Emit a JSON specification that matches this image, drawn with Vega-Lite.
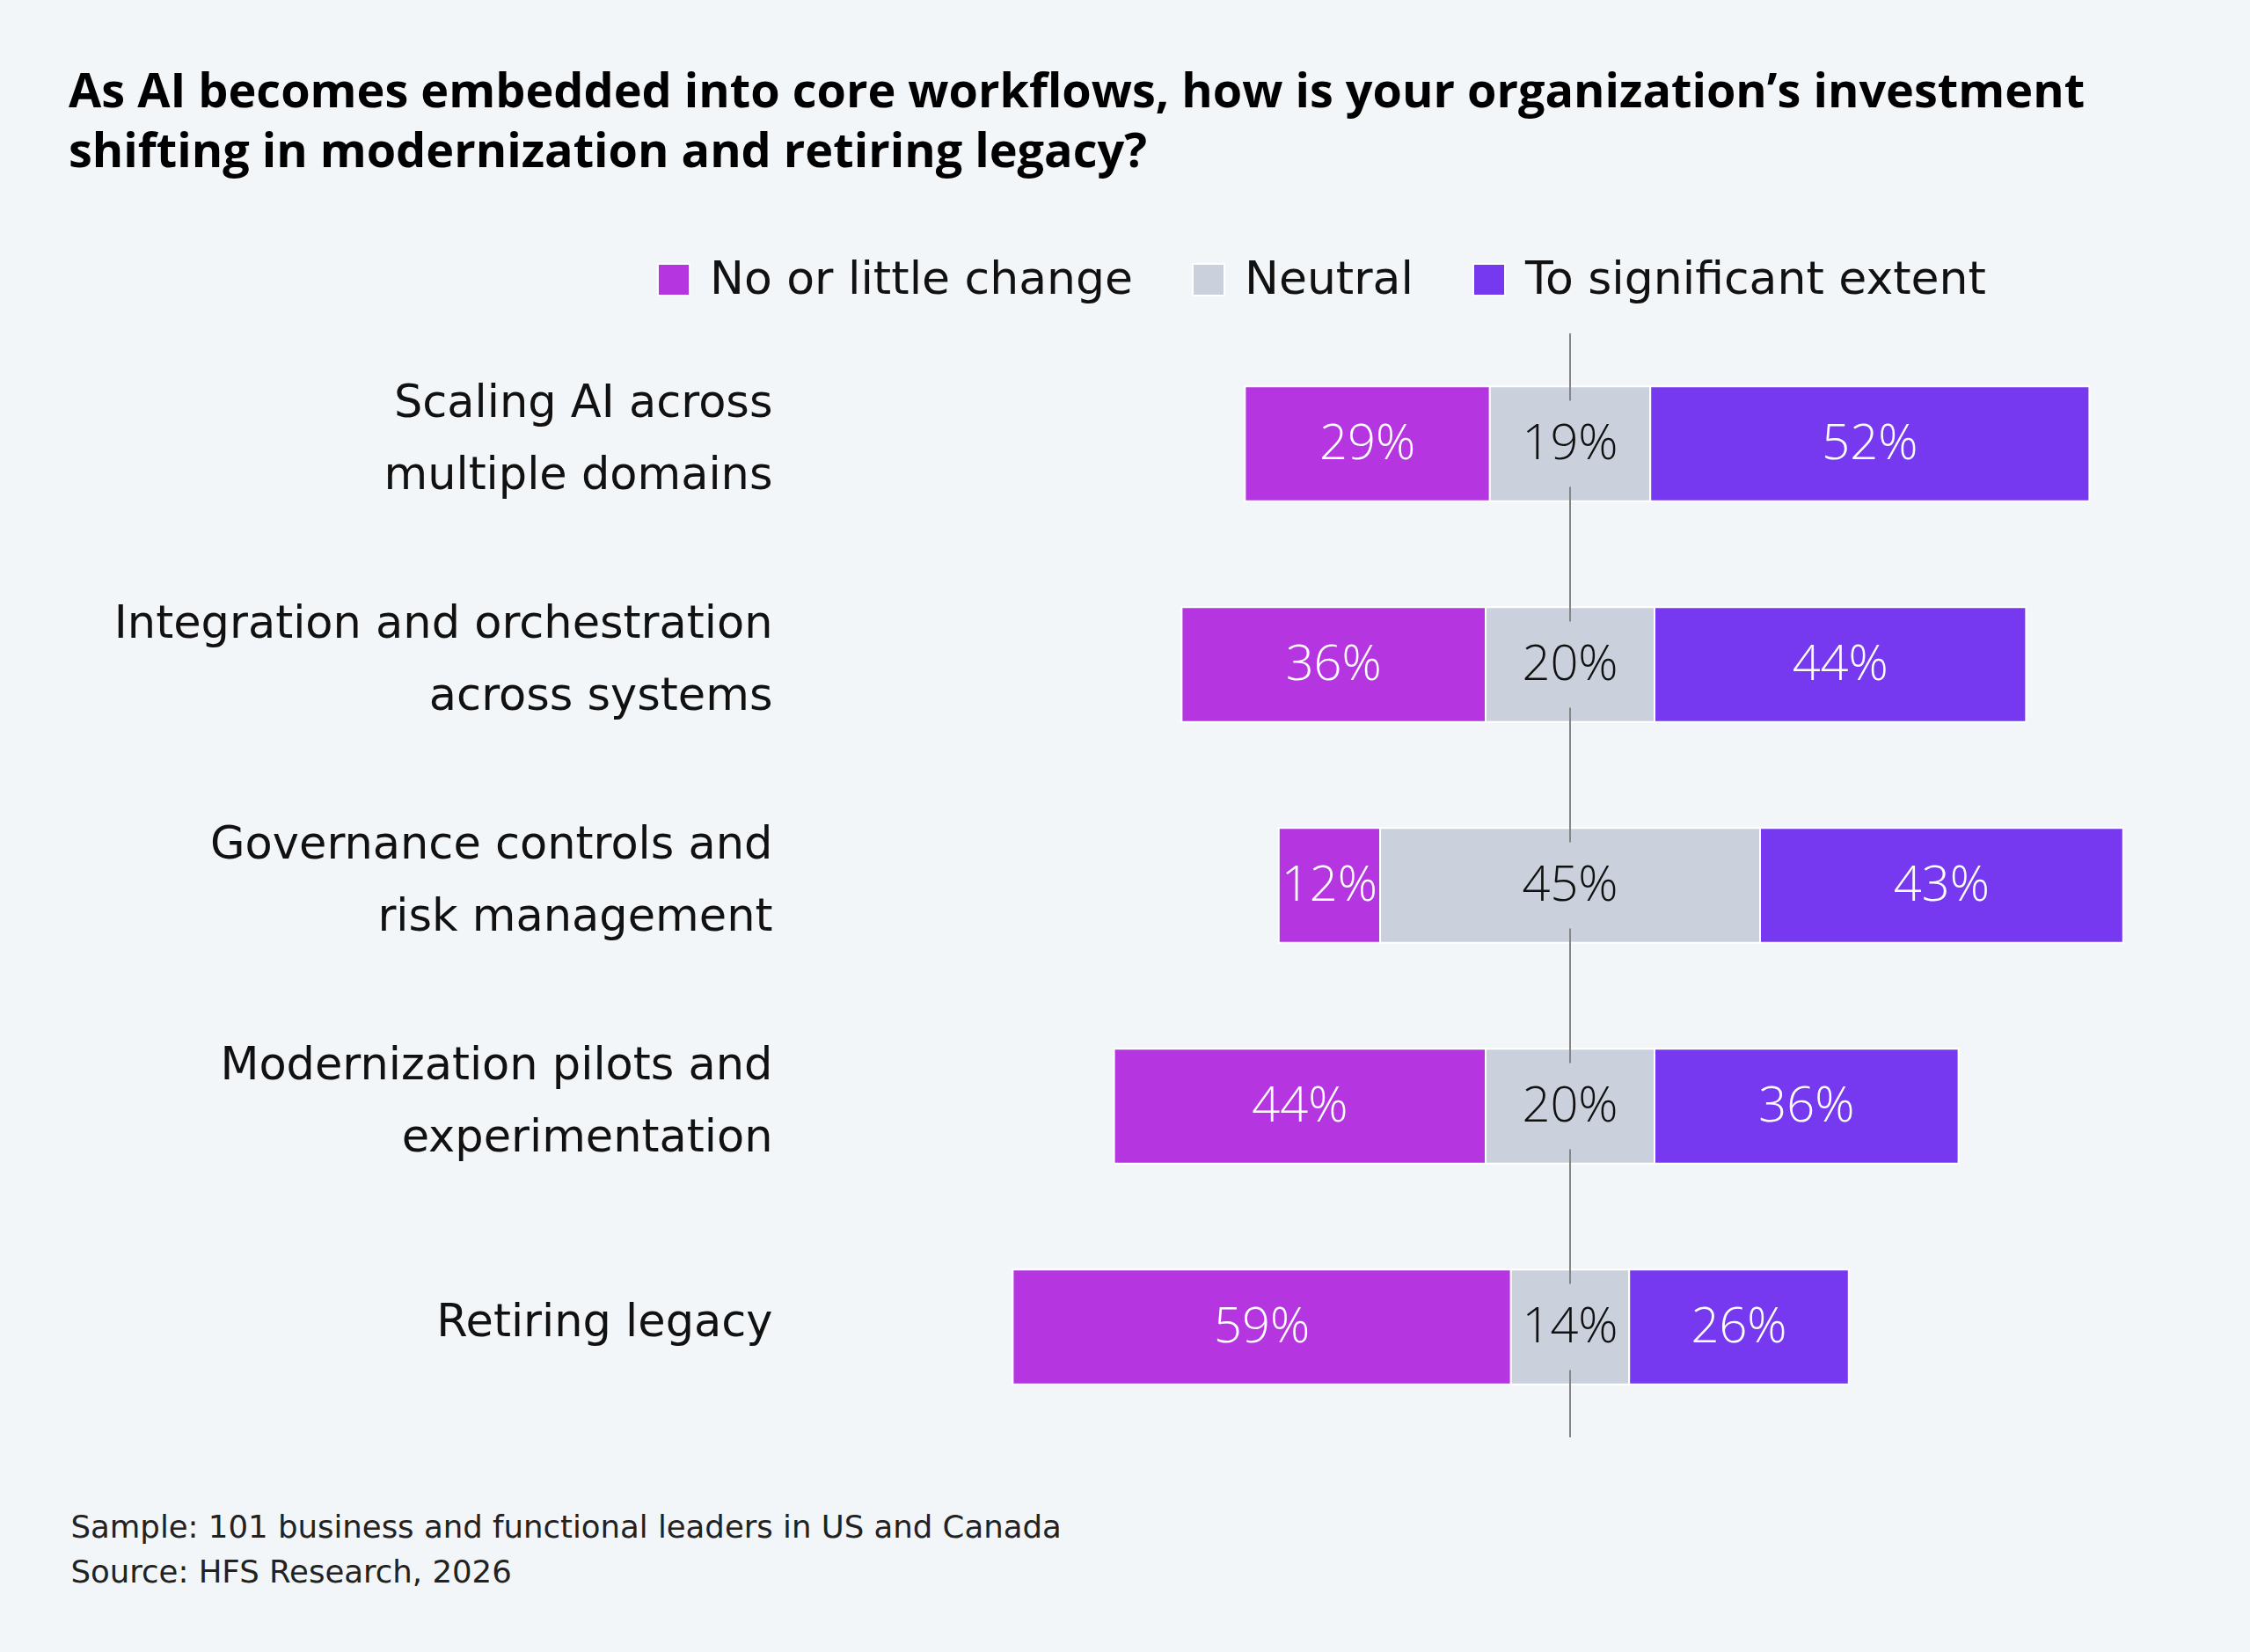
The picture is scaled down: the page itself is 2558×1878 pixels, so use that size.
{
  "$schema": "https://vega.github.io/schema/vega-lite/v6.json",
  "width": 1344,
  "height": 1255,
  "autosize": "none",
  "padding": {"left": 1113, "top": 379, "right": 101, "bottom": 244},
  "background": "#f3f6f9",
  "config": {
    "view": {"stroke": null},
    "font": "Open Sans",
    "axisX": {
      "labels": false,
      "ticks": false,
      "domain": false,
      "grid": false,
      "titleX": -1033,
      "titleY": 113,
      "titleAnchor": "start",
      "titleAlign": "left",
      "titleBaseline": "alphabetic",
      "titleFontSize": 35.5,
      "titleFontWeight": "normal",
      "titleFont": "DejaVu Sans",
      "titleLineHeight": 51,
      "titleColor": "#222222"
    }
  },
  "title": {
    "text": ["As AI becomes embedded into core workflows, how is your organization’s investment", "shifting in modernization and retiring legacy?"],
    "anchor": "start",
    "frame": "group",
    "dx": -1035,
    "offset": 91,
    "fontSize": 54,
    "fontWeight": "bold",
    "color": "#000000",
    "lineHeight": 68
  },
  "data": {
    "values": [
      {"q": "Scaling AI across multiple domains", "cat": "No or little change", "value": 29},
      {"q": "Scaling AI across multiple domains", "cat": "Neutral", "value": 19},
      {"q": "Scaling AI across multiple domains", "cat": "To significant extent", "value": 52},
      {"q": "Integration and orchestration across systems", "cat": "No or little change", "value": 36},
      {"q": "Integration and orchestration across systems", "cat": "Neutral", "value": 20},
      {"q": "Integration and orchestration across systems", "cat": "To significant extent", "value": 44},
      {"q": "Governance controls and risk management", "cat": "No or little change", "value": 12},
      {"q": "Governance controls and risk management", "cat": "Neutral", "value": 45},
      {"q": "Governance controls and risk management", "cat": "To significant extent", "value": 43},
      {"q": "Modernization pilots and experimentation", "cat": "No or little change", "value": 44},
      {"q": "Modernization pilots and experimentation", "cat": "Neutral", "value": 20},
      {"q": "Modernization pilots and experimentation", "cat": "To significant extent", "value": 36},
      {"q": "Retiring legacy", "cat": "No or little change", "value": 59},
      {"q": "Retiring legacy", "cat": "Neutral", "value": 14},
      {"q": "Retiring legacy", "cat": "To significant extent", "value": 26}
    ]
  },
  "transform": [
    {"calculate": "indexof(['No or little change','Neutral','To significant extent'], datum.cat)", "as": "ord"},
    {"stack": "value", "groupby": ["q"], "sort": [{"field": "ord", "order": "ascending"}], "as": ["s0", "s1"]},
    {"calculate": "datum.cat === 'Neutral' ? (datum.s0 + datum.s1) / 2 : 0", "as": "nmid"},
    {"joinaggregate": [{"op": "sum", "field": "nmid", "as": "off"}], "groupby": ["q"]},
    {"calculate": "datum.s0 - datum.off", "as": "x1"},
    {"calculate": "datum.s1 - datum.off", "as": "x2"},
    {"calculate": "(datum.x1 + datum.x2) / 2", "as": "mid"},
    {"calculate": "datum.value + '%'", "as": "label"}
  ],
  "layer": [
    {
      "mark": {"type": "bar", "stroke": "white", "strokeWidth": 2},
      "encoding": {
        "y": {
          "field": "q",
          "type": "nominal",
          "sort": null,
          "scale": {"paddingInner": 0.48, "paddingOuter": 0.24},
          "axis": {
            "title": null,
            "domain": false,
            "ticks": false,
            "grid": false,
            "labelPadding": 235,
            "labelFontSize": 51,
            "labelFont": "DejaVu Sans",
            "labelColor": "#111111",
            "labelLineHeight": 82,
            "labelLimit": 0,
            "labelOffset": {"condition": {"test": "datum.label === 'Retiring legacy'", "value": -5}, "value": -46},
            "labelExpr": "datum.label === 'Scaling AI across multiple domains' ? ['Scaling AI across', 'multiple domains'] : datum.label === 'Integration and orchestration across systems' ? ['Integration and orchestration', 'across systems'] : datum.label === 'Governance controls and risk management' ? ['Governance controls and', 'risk management'] : datum.label === 'Modernization pilots and experimentation' ? ['Modernization pilots and', 'experimentation'] : datum.label"
          }
        },
        "x": {
          "field": "x1",
          "type": "quantitative",
          "scale": {"domain": [-70, 70], "nice": false, "zero": false},
          "title": ["Sample: 101 business and functional leaders in US and Canada", "Source: HFS Research, 2026"]
        },
        "x2": {"field": "x2"},
        "color": {
          "field": "cat",
          "type": "nominal",
          "scale": {"domain": ["No or little change", "Neutral", "To significant extent"], "range": ["#b536e0", "#cad1dc", "#7639f0"]},
          "legend": {
            "orient": "none",
            "legendX": -373,
            "legendY": -87,
            "direction": "horizontal",
            "title": null,
            "symbolType": "square",
            "symbolSize": 1300,
            "symbolStrokeColor": "white",
            "symbolStrokeWidth": 2,
            "labelFontSize": 52,
            "labelFont": "DejaVu Sans",
            "labelColor": "#111111",
            "labelOffset": 15,
            "columnPadding": 60,
            "labelLimit": 0
          }
        }
      }
    },
    {
      "mark": {"type": "rule", "color": "#858585", "strokeWidth": 2},
      "encoding": {"x": {"datum": 0, "type": "quantitative", "title": ["Sample: 101 business and functional leaders in US and Canada", "Source: HFS Research, 2026"]}}
    },
    {
      "transform": [{"filter": "datum.cat === 'Neutral'"}],
      "mark": {"type": "bar", "color": "#cad1dc", "height": {"band": 0.75}},
      "encoding": {
        "y": {"field": "q", "type": "nominal", "sort": null},
        "x": {"datum": -3, "type": "quantitative", "title": ["Sample: 101 business and functional leaders in US and Canada", "Source: HFS Research, 2026"]},
        "x2": {"datum": 3}
      }
    },
    {
      "mark": {"type": "text", "fontSize": 56, "fontWeight": 300, "font": "Open Sans", "baseline": "middle", "align": "center"},
      "encoding": {
        "y": {"field": "q", "type": "nominal", "sort": null},
        "x": {"field": "mid", "type": "quantitative", "title": ["Sample: 101 business and functional leaders in US and Canada", "Source: HFS Research, 2026"]},
        "text": {"field": "label"},
        "color": {"condition": {"test": "datum.cat === 'Neutral'", "value": "#111111"}, "value": "#ffffff"}
      }
    }
  ]
}
